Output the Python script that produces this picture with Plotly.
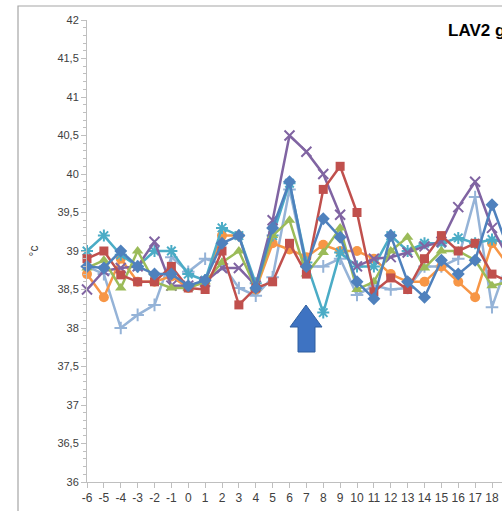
import plotly.graph_objects as go

days = list(range(-6, 20))

blue = [38.8, 38.78, 39.0, 38.8, 38.7, 38.7, 38.55, 38.62, 39.1, 39.2, 38.52, 39.3, 39.9, 38.8, 39.42, 39.18, 38.6, 38.38, 39.2, 38.6, 38.4, 38.88, 38.7, 38.88, 39.6, 39.0]
red = [38.9, 39.0, 38.69, 38.6, 38.6, 38.8, 38.52, 38.5, 39.0, 38.3, 38.52, 38.6, 39.1, 38.7, 39.8, 40.1, 39.5, 38.47, 38.65, 38.5, 38.9, 39.2, 39.0, 39.1, 38.7, 38.6]
green = [38.78, 38.88, 38.52, 39.0, 38.6, 38.52, 38.52, 38.6, 38.85, 39.0, 38.52, 39.2, 39.4, 38.7, 38.98, 39.3, 38.5, 38.6, 39.0, 39.18, 38.78, 39.0, 39.0, 38.88, 38.55, 38.6]
purple = [38.5, 38.74, 38.78, 38.8, 39.12, 38.55, 38.55, 38.6, 38.78, 38.78, 38.55, 39.4, 40.5, 40.29, 40.0, 39.47, 38.8, 38.9, 38.92, 38.98, 39.06, 39.12, 39.57, 39.9, 39.3, 38.9]
aqua = [39.0, 39.2, 38.95, 38.8, 39.0, 39.0, 38.7, 38.62, 39.3, 39.2, 38.58, 39.2, 39.88, 38.85, 38.2, 38.98, 38.8, 38.8, 39.2, 39.0, 39.1, 39.1, 39.17, 39.1, 39.15, 39.1]
orange = [38.7, 38.4, 38.9, 38.6, 38.6, 38.67, 38.52, 38.6, 39.2, 39.2, 38.5, 39.1, 39.02, 38.92, 39.08, 39.0, 39.0, 38.9, 38.7, 38.6, 38.6, 38.8, 38.6, 38.4, 39.1, 38.8]
lightblue = [38.8, 38.7, 38.0, 38.17, 38.3, 38.92, 38.73, 38.9, 38.83, 38.52, 38.42, 38.66, 39.8, 38.8, 38.8, 38.9, 38.43, 38.55, 38.5, 38.52, 38.8, 38.8, 38.9, 39.7, 38.27, 38.9]

y_ticks = [36 + 0.5 * i for i in range(13)]

series = [
    (lightblue, "#95B3D7", dict(symbol="cross-thin-open", size=9, line=dict(width=2, color="#95B3D7"))),
    (orange, "#F79646", dict(symbol="circle", size=10)),
    (aqua, "#4BACC6", dict(symbol="asterisk-open", size=10, line=dict(width=2, color="#4BACC6"))),
    (purple, "#8064A2", dict(symbol="x-thin-open", size=10, line=dict(width=2, color="#8064A2"))),
    (green, "#9BBB59", dict(symbol="triangle-up", size=10)),
    (red, "#C0504D", dict(symbol="square", size=9)),
    (blue, "#4F81BD", dict(symbol="diamond", size=10)),
]

fig = go.Figure()
for vals, col, mk in series:
    m = dict(color=col)
    m.update(mk)
    fig.add_trace(go.Scatter(x=days, y=vals, mode="lines+markers",
                             line=dict(color=col, width=2.5), marker=m,
                             cliponaxis=False, showlegend=False))

L, T, B = 87, 20, 482
W = 502 - L
H = B - T

def px(xp):
    return (xp - L) / W

def py(yp):
    return (B - yp) / H

# outer chart frame
fig.add_shape(type="path", xref="paper", yref="paper",
              path=f"M {px(18)} {py(560)} L {px(18)} {py(6)} L {px(560)} {py(6)}",
              line=dict(color="#A6A6A6", width=1.2))

# blue arrow
arrow = [(306, 305), (322, 327), (315, 327), (315, 352), (298, 352), (298, 327), (290, 327)]
path = "M " + " L ".join(f"{px(a)} {py(b)}" for a, b in arrow) + " Z"
fig.add_shape(type="path", xref="paper", yref="paper", path=path,
              fillcolor="#3E73C2", line=dict(color="#2F5F9F", width=1))

fig.add_annotation(text="<b>LAV2 g</b>", xref="paper", yref="paper",
                   x=px(446), y=py(30), xanchor="left", yanchor="middle",
                   showarrow=False, font=dict(size=17, color="#000000", family="Liberation Sans"))

fig.update_layout(
    width=502, height=511,
    margin=dict(l=L, r=0, t=T, b=511 - B),
    paper_bgcolor="white", plot_bgcolor="white",
    separators=",.",
    font=dict(family="Liberation Sans", size=11, color="#404040"),
    xaxis=dict(range=[-6, -6 + W / 16.875], tickmode="array", tickvals=days[:25],
               ticktext=[str(d) for d in days[:25]],
               showgrid=False, zeroline=False, showline=True, linecolor="#BFBFBF", linewidth=1,
               ticks="outside", ticklen=5, tickcolor="#BFBFBF", tickfont=dict(size=12)),
    yaxis=dict(range=[36, 42], tickmode="array", tickvals=y_ticks,
               ticktext=[f"{v:g}".replace(".", ",") for v in y_ticks],
               showgrid=False, zeroline=False, showline=True, linecolor="#BFBFBF", linewidth=1,
               ticks="outside", ticklen=5, tickcolor="#BFBFBF", tickfont=dict(size=11),
               minor=dict(ticks="outside", ticklen=3, dtick=0.1, tickcolor="#BFBFBF", showgrid=False),
               title=dict(text="°c", font=dict(size=12, color="#404040"), standoff=16)),
)

fig.write_html("out.html", config={"displayModeBar": False},
               post_script="document.body.style.margin='0';document.body.style.overflow='hidden';")
